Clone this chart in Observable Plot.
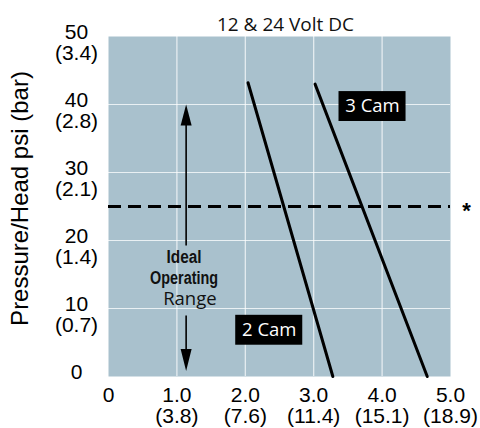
<!DOCTYPE html>
<html>
<head>
<meta charset="utf-8">
<script src="https://cdn.jsdelivr.net/npm/d3@7"></script>
<script src="https://cdn.jsdelivr.net/npm/@observablehq/plot@0.6"></script>
<style>
  html, body { margin: 0; padding: 0; background: #fff; }
  #chart svg { display: block; }
</style>
</head>
<body>
<div id="chart"></div>
<script>
// Flow (gpm / lpm) vs pressure (psi / bar)
const xTicks = [0, 1, 2, 3, 4, 5];
const xTickLabels = ["0", "1.0\n(3.8)", "2.0\n(7.6)", "3.0\n(11.4)", "4.0\n(15.1)", "5.0\n(18.9)"];
const yTicks = [0, 10, 20, 30, 40, 50];
const yTickLabels = ["0", "10\n(0.7)", "20\n(1.4)", "30\n(2.1)", "40\n(2.8)", "50\n(3.4)"];
const gridXValues = [1, 2, 3, 4];
const gridYValues = [10, 20, 30, 40];

const cam2Flow = [2.04, 3.28];
const cam2Psi = [43.2, 0];
const cam3Flow = [3.02, 4.66];
const cam3Psi = [43.0, 0];

const maxPressure = [25];

const seriesNames = ["2 Cam", "3 Cam"];
const seriesLabelX = [2.35, 3.86];
const seriesLabelY = [6.8, 39.7];

const rangeX = 1.135;
const rangeUp = [19.2, 40];
const rangeDown = [8.9, 0.8];
const rangeWords = ["Ideal", "Operating", "Range"];
const rangeWordX = [1.105, 1.105, 1.19];
const rangeWordY = [17.6, 14.4, 11.4];

const curves = [
  ...cam2Flow.map((x, i) => ({series: "2 Cam", x, y: cam2Psi[i]})),
  ...cam3Flow.map((x, i) => ({series: "3 Cam", x, y: cam3Psi[i]}))
];
const labels = seriesNames.map((name, i) => ({name, x: seriesLabelX[i], y: seriesLabelY[i]}));
const words = rangeWords.map((w, i) => ({w, x: rangeWordX[i], y: rangeWordY[i], bold: i < 2}));

const tickFont = "Liberation Sans, Arial, sans-serif";
const myriad = "Open Sans, sans-serif";

const chart = Plot.plot({
  width: 480,
  height: 428,
  marginLeft: 108,
  marginRight: 30,
  marginTop: 36,
  marginBottom: 52,
  x: {domain: [0, 5], axis: null},
  y: {domain: [0, 50], axis: null},
  marks: [
    Plot.frame({fill: "#a9c1cd", stroke: "none"}),
    Plot.gridX(gridXValues, {stroke: "#ffffff", strokeOpacity: 0.75, strokeWidth: 1.2}),
    Plot.gridY(gridYValues, {stroke: "#ffffff", strokeOpacity: 0.75, strokeWidth: 1.2}),
    Plot.ruleY(maxPressure, {stroke: "#000", strokeWidth: 3, strokeDasharray: "13,7"}),
    Plot.line(curves, {x: "x", y: "y", z: "series", stroke: "#000", strokeWidth: 3}),
    // Ideal operating range arrows
    Plot.ruleX([rangeX], {y1: rangeUp[0], y2: rangeUp[1] - 2, stroke: "#000", strokeWidth: 1.6}),
    Plot.vector([rangeX], {x: d => d, y: rangeUp[1], shape: "spike", anchor: "end", length: 21, r: 5.5, rotate: 0, fill: "#000", stroke: "none"}),
    Plot.ruleX([rangeX], {y1: rangeDown[0], y2: rangeDown[1] + 2, stroke: "#000", strokeWidth: 1.6}),
    Plot.vector([rangeX], {x: d => d, y: rangeDown[1], shape: "spike", anchor: "end", length: 22, r: 5.5, rotate: 180, fill: "#000", stroke: "none"}),
    Plot.text(words.filter(d => d.bold), {x: "x", y: "y", text: "w", fontFamily: tickFont, fontWeight: "bold", fontSize: 18, fill: "#111", className: "condensed"}),
    Plot.text(words.filter(d => !d.bold), {x: "x", y: "y", text: "w", fontFamily: myriad, fontSize: 18.5, fill: "#111"}),
    // series labels
    Plot.rect(labels, {x1: d => d.x - 0.49, x2: d => d.x + 0.49, y1: d => d.y - 2.2, y2: d => d.y + 2.2, fill: "#000"}),
    Plot.text(labels, {x: "x", y: "y", text: "name", fill: "#fff", fontFamily: myriad, fontSize: 18.5}),
    // asterisk
    Plot.text(maxPressure, {y: d => d, text: () => "*", frameAnchor: "right", textAnchor: "middle", dx: 16, dy: 4, fontSize: 22, fontWeight: "bold", fontFamily: tickFont, fill: "#000"}),
    // tick labels
    Plot.text(xTicks, {x: d => d, text: (d, i) => xTickLabels[i], frameAnchor: "bottom", lineAnchor: "top", dy: 11, lineHeight: 1.0, fontSize: 21, fontFamily: tickFont, fill: "#000"}),
    Plot.text(yTicks, {y: d => d, text: (d, i) => yTickLabels[i], frameAnchor: "left", textAnchor: "middle", lineAnchor: "top", dx: -32, dy: -12, lineHeight: 0.98, fontSize: 21, fontFamily: tickFont, fill: "#000"}),
    // axis title
    Plot.text(["Pressure/Head psi (bar)"], {frameAnchor: "left", textAnchor: "middle", rotate: -90, dx: -88, dy: -8, fontSize: 24, fontFamily: tickFont, fill: "#000"}),
    // chart title
    Plot.text(["12 & 24 Volt DC"], {frameAnchor: "top", dx: 6, dy: -19, fontSize: 19, fontFamily: myriad, fill: "#111"})
  ]
});
// condense the bold "Ideal Operating" words to the reference's narrow face
const condensedWidths = {"Ideal": 35, "Operating": 68};
d3.select(chart).selectAll("g.condensed text").each(function () {
  const w = condensedWidths[this.textContent];
  if (w) d3.select(this).attr("textLength", w).attr("lengthAdjust", "spacingAndGlyphs");
});
document.getElementById("chart").appendChild(chart);
</script>
</body>
</html>
